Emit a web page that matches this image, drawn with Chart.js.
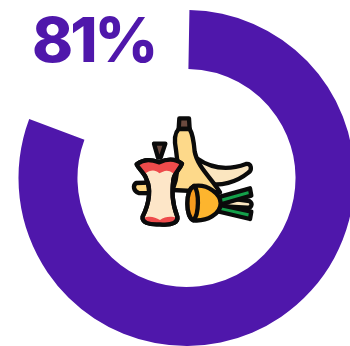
<!DOCTYPE html>
<html>
<head>
<meta charset="utf-8">
<script src="https://cdn.jsdelivr.net/npm/chart.js@4"></script>
<style>
  html, body { margin: 0; padding: 0; background: #fff; }
  body { width: 350px; height: 346px; overflow: hidden; position: relative; }
  #ring { position: absolute; left: 0; top: 10px; }
  #pct { position: absolute; left: 32px; top: 2px; color: #4f17ab; font: 800 62px Inter, sans-serif; letter-spacing: -3px; line-height: 76px; }
  #icon { position: absolute; left: 120px; top: 105px; }
</style>
</head>
<body>
<canvas id="ring" width="373" height="336"></canvas>
<div id="pct">81%</div>
<svg id="icon" width="145" height="130" viewBox="0 0 435 390" stroke="#0b0b0b" stroke-width="13" stroke-linejoin="round" stroke-linecap="round">
  <!-- banana peels and stem -->
  <path d="M230 160 C280 195 330 195 378 177 C395 175 397 195 385 203 C350 232 300 245 262 235 Z" fill="#fbe6c0"/>
  <path d="M48 234 L110 232 L110 265 L56 264 C40 258 38 242 48 234 Z" fill="#ffd680"/>
  <path d="M178 40 H207 L209 72 H176 Z" fill="#6b4a3f"/>
  <path d="M176 72 C163 85 163 110 168 135 C178 190 170 225 158 255 L300 262 C275 220 232 185 224 140 C222 115 220 90 209 72 Z" fill="#fdd98a"/>
  <path d="M290 275 L388 288 C400 296 394 310 382 308 L290 303 Z" fill="#fbe6c0"/>
  <path d="M290 278 L390 250 L394 272 L295 300 Z" fill="#14a04a"/>
  <path d="M292 298 L394 320 L390 342 L288 318 Z" fill="#14a04a"/>
  <!-- orange half -->
  <path d="M222 243 C265 236 302 268 302 295 C302 328 260 350 220 346 C198 338 194 258 222 243 Z" fill="#fdb52e"/>
  <path d="M222 243 C196 256 196 334 220 346 C238 328 238 260 222 243 Z" fill="#f59a1e"/>
  <!-- apple core -->
  <path d="M102 116 L136 116 L122 158 H114 Z" fill="#6b4a3f"/>
  <path d="M50 178 C75 160 95 165 118 172 C140 162 165 160 186 176 C178 195 162 205 160 225 C156 260 155 290 172 335 C175 350 160 362 120 358 C85 360 65 352 68 335 C90 290 92 250 80 225 C75 205 58 195 50 178 Z" fill="#fde6c8"/>
  <path d="M50 178 C75 160 95 165 118 172 C140 162 165 160 186 176 C178 192 168 200 160 205 C140 190 130 200 118 205 C105 192 90 195 76 205 C66 198 58 190 50 178 Z" fill="#ee4b4b" stroke="none"/>
  <path d="M70 340 C90 330 105 338 120 345 C135 335 155 332 170 340 C172 352 155 360 120 358 C85 360 68 352 70 340 Z" fill="#ee4b4b" stroke="none"/>
  <path d="M50 178 C75 160 95 165 118 172 C140 162 165 160 186 176 C178 195 162 205 160 225 C156 260 155 290 172 335 C175 350 160 362 120 358 C85 360 65 352 68 335 C90 290 92 250 80 225 C75 205 58 195 50 178 Z" fill="none"/>
</svg>
<script>
const categories = ['Food waste', 'Other'];
const seriesValues = [81, 19];
const seriesColors = ['#4f17ab', 'rgba(0,0,0,0)'];

new Chart(document.getElementById('ring'), {
  type: 'doughnut',
  data: {
    labels: categories,
    datasets: [{
      data: seriesValues,
      backgroundColor: seriesColors,
      borderWidth: 0
    }]
  },
  options: {
    responsive: false,
    animation: false,
    cutout: '64.9%',
    rotation: 1,
    circumference: 357.5,
    layout: { padding: 0 },
    plugins: { legend: { display: false }, tooltip: { enabled: false } }
  }
});
</script>
</body>
</html>
